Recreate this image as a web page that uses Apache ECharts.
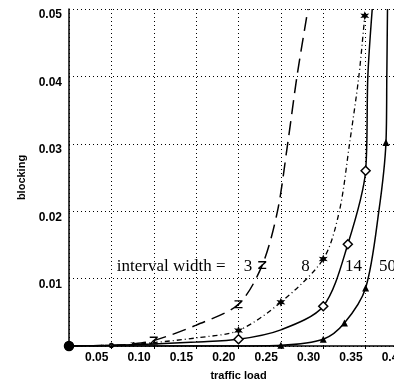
<!DOCTYPE html>
<html>
<head>
<meta charset="utf-8">
<script src="https://cdn.jsdelivr.net/npm/echarts@6/dist/echarts.min.js"></script>
<style>
  html, body { margin: 0; padding: 0; background: #fff; }
  #main { width: 394px; height: 385px; }
</style>
</head>
<body>
<div id="main"></div>
<script>
/* 数据 */
var xTicks = [0.05, 0.10, 0.15, 0.20, 0.25, 0.30, 0.35, 0.40];
var yTicks = [0.01, 0.02, 0.03, 0.04, 0.05];

// interval width = 3
var load3  = [0, 0.05, 0.075, 0.10, 0.15, 0.20, 0.228, 0.246, 0.258, 0.269, 0.282];
var block3 = [0, 0.0001, 0.0003, 0.0008, 0.0031, 0.0062, 0.012, 0.02, 0.03, 0.04, 0.05];
var mark3  = [1, 2, 3, 5, 6];

// interval width = 8
var load8  = [0, 0.05, 0.075, 0.10, 0.15, 0.20, 0.25, 0.30, 0.319, 0.331, 0.342, 0.349];
var block8 = [0, 0.0001, 0.0002, 0.0005, 0.0012, 0.0023, 0.0065, 0.0129, 0.02, 0.03, 0.04, 0.049];
var mark8  = [1, 2, 5, 6, 7, 11];

// interval width = 14
var load14  = [0, 0.05, 0.10, 0.15, 0.20, 0.25, 0.30, 0.329, 0.35, 0.3526, 0.3578];
var block14 = [0, 0.0001, 0.0003, 0.0006, 0.001, 0.0024, 0.0059, 0.0151, 0.026, 0.04, 0.05];
var mark14  = [1, 4, 6, 7, 8];

// interval width = 50
var load50  = [0, 0.05, 0.10, 0.15, 0.20, 0.25, 0.30, 0.325, 0.35, 0.3656, 0.374, 0.375, 0.3758];
var block50 = [0, 0, 0, 0, 0, 0.0001, 0.001, 0.0034, 0.0086, 0.02, 0.0302, 0.04, 0.05];
var mark50  = [1, 5, 6, 7, 8, 10];

var zPath = 'path://M0,0 L10,0 L10,1.6 L2.6,8.4 L10,8.4 L10,10 L0,10 L0,8.4 L7.4,1.6 L0,1.6 Z';
var starPath = 'path://M5,0 L6.3,3 L10,2.5 L7.6,5 L10,7.5 L6.3,7 L5,10 L3.7,7 L0,7.5 L2.4,5 L0,2.5 L3.7,3 Z';

function pts(xs, ys, marks, sym, size) {
  return xs.map(function (x, i) {
    var on = marks.indexOf(i) >= 0;
    if (i === 0) return { value: [x, ys[i]], symbol: 'circle', symbolSize: 9 };
    // 底部的小标记
    var s = xs[i] < 0.09 ? 4 : size;
    return { value: [x, ys[i]], symbol: on ? sym : 'none', symbolSize: s };
  });
}

var myChart = echarts.init(document.getElementById('main'));

var serifLabel = {
  show: true, color: '#000', fontFamily: 'Liberation Serif', fontSize: 17
};

option = {
  animation: false,
  grid: { left: 69, top: 9, height: 337, width: 339, containLabel: false, outerBoundsMode: 'none' },
  xAxis: {
    type: 'value',
    min: 0, max: 0.4, interval: 0.05,
    name: 'traffic load',
    nameLocation: 'middle',
    nameGap: 24,
    nameTextStyle: { fontFamily: 'Liberation Sans', fontWeight: 'bold', fontSize: 11, color: '#000' },
    axisLine: { lineStyle: { color: '#000', width: 1.5 } },
    axisTick: { show: true, length: 3, lineStyle: { color: '#000' } },
    axisLabel: {
      showMinLabel: false,
      align: 'right',
      margin: 6,
      padding: [0, 3, 0, 0],
      color: '#000', fontFamily: 'Liberation Sans', fontWeight: 'bold', fontSize: 12,
      formatter: function (v) { return xTicks.indexOf(+v.toFixed(2)) >= 0 ? v.toFixed(2) : ''; }
    },
    splitLine: { show: true, lineStyle: { color: '#000', type: [1, 3], width: 1 } }
  },
  yAxis: {
    type: 'value',
    min: 0, max: 0.05, interval: 0.01,
    name: 'blocking',
    nameLocation: 'middle',
    nameGap: 32,
    nameTextStyle: { fontFamily: 'Liberation Sans', fontWeight: 'bold', fontSize: 11, color: '#000' },
    axisLine: { show: true, lineStyle: { color: '#000', width: 1.5 } },
    axisTick: { show: false },
    axisLabel: {
      showMinLabel: false,
      verticalAlign: 'top',
      margin: 7,
      color: '#000', fontFamily: 'Liberation Sans', fontWeight: 'bold', fontSize: 12,
      formatter: function (v) { return yTicks.indexOf(+v.toFixed(2)) >= 0 ? v.toFixed(2) : ''; }
    },
    splitLine: { show: true, lineStyle: { color: '#000', type: [1, 3], width: 1 } }
  },
  series: [
    {
      name: '3', type: 'line', smooth: 0.3,
      lineStyle: { color: '#000', width: 1.5, type: [14, 7] },
      itemStyle: { color: '#000' },
      data: pts(load3, block3, mark3, zPath, 8),
      markPoint: {
        symbol: 'circle', symbolSize: 0,
        label: serifLabel,
        data: [
          { coord: [0.1205, 0.0118], label: { formatter: 'interval width =' } },
          { coord: [0.2113, 0.0118], label: { formatter: '3' } },
          { coord: [0.279, 0.0118], label: { formatter: '8' } },
          { coord: [0.3357, 0.0118], label: { formatter: '14' } },
          { coord: [0.3758, 0.0118], label: { formatter: '50' } }
        ]
      }
    },
    {
      name: '8', type: 'line', smooth: 0.3,
      lineStyle: { color: '#000', width: 1.3, type: [5, 3, 1, 3] },
      itemStyle: { color: '#000' },
      data: pts(load8, block8, mark8, starPath, 9)
    },
    {
      name: '14', type: 'line', smooth: 0.3,
      lineStyle: { color: '#000', width: 1.5 },
      itemStyle: { color: '#fff', borderColor: '#000', borderWidth: 1.5 },
      data: pts(load14, block14, mark14, 'diamond', 9)
    },
    {
      name: '50', type: 'line', smooth: 0.3,
      lineStyle: { color: '#000', width: 1.5 },
      itemStyle: { color: '#000' },
      data: pts(load50, block50, mark50, 'triangle', 7)
    }
  ]
};
myChart.setOption(option);
</script>
</body>
</html>
